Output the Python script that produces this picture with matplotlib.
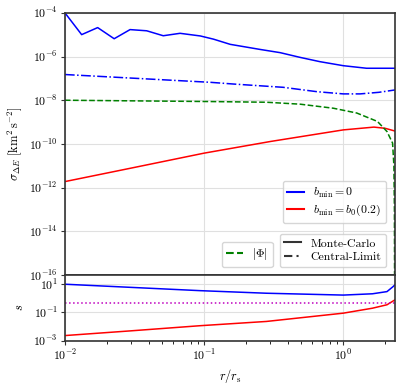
import numpy as np
import matplotlib
matplotlib.use('Agg')
import matplotlib.pyplot as plt
from matplotlib.lines import Line2D
from matplotlib.ticker import NullLocator

plt.rcParams['mathtext.fontset'] = 'cm'
plt.rcParams['font.family'] = 'serif'
plt.rcParams['font.serif'] = ['cmr10']
plt.rcParams['axes.formatter.use_mathtext'] = True
plt.rcParams['font.size'] = 8.5

# Monte-Carlo, b_min = 0
r_mc0 = [0.01, 0.0132, 0.0172, 0.0226, 0.0294, 0.0387, 0.0509, 0.0672, 0.094,
         0.117, 0.154, 0.253, 0.352, 0.49, 0.68, 1.0, 1.47, 2.0, 2.35]
sig_mc0 = [1e-4, 1.0e-5, 2.1e-5, 6.5e-6, 1.7e-5, 1.5e-5, 8.9e-6, 1.15e-5, 8.7e-6,
           6.2e-6, 3.6e-6, 2.1e-6, 1.5e-6, 9.1e-7, 5.8e-7, 3.8e-7, 2.9e-7, 2.9e-7, 2.9e-7]

# Central-Limit, b_min = 0
r_cl0 = [0.01, 0.0347, 0.111, 0.163, 0.37, 0.65, 1.0, 1.32, 1.8, 2.35]
sig_cl0 = [1.5e-7, 9.8e-8, 6.6e-8, 5.5e-8, 3.9e-8, 2.45e-8, 1.95e-8, 1.95e-8, 2.3e-8, 2.95e-8]

# Monte-Carlo, b_min = b0(0.2)
r_mcb = [0.01, 0.03, 0.1, 0.3, 1.0, 1.66, 2.0, 2.35]
sig_mcb = [1.9e-12, 7.9e-12, 3.8e-11, 1.3e-10, 4.4e-10, 5.9e-10, 5.2e-10, 3.9e-10]

# |Phi|
r_phi = [0.01, 0.111, 0.28, 0.49, 0.85, 1.25, 1.76, 2.06, 2.26, 2.31, 2.33, 2.34]
phi = [1e-8, 8.7e-9, 8.1e-9, 6.6e-9, 4.3e-9, 2.6e-9, 1.07e-9, 3.7e-10, 1.1e-10,
       1e-11, 1e-13, 1e-18]

# ratio s
r_s = [0.01, 0.0936, 0.28, 1.0, 1.62, 2.06, 2.28, 2.35]
s_b0 = [10.0, 3.5, 2.3, 1.7, 2.1, 3.0, 6.8, 9.0]
r_s2 = [0.01, 0.03, 0.0936, 0.28, 1.0, 1.62, 2.06, 2.35]
s_bb = [2.3e-3, 5e-3, 1.15e-2, 2.3e-2, 8.9e-2, 0.2, 0.35, 0.78]
s_ref = 0.5

fig = plt.figure(figsize=(4.08, 3.87), dpi=100)
ax = fig.add_axes([0.159, 0.289, 0.809, 0.678])
ax2 = fig.add_axes([0.159, 0.1197, 0.809, 0.1697], sharex=ax)

ax.plot(r_mc0, sig_mc0, 'b-', lw=1.1)
ax.plot(r_cl0, sig_cl0, 'b-.', lw=1.1)
ax.plot(r_mcb, sig_mcb, 'r-', lw=1.1)
ax.plot(r_phi, phi, 'g--', lw=1.1)

ax2.plot(r_s, s_b0, 'b-', lw=1.1)
ax2.plot(r_s2, s_bb, 'r-', lw=1.1)
ax2.axhline(s_ref, color='m', ls=':', lw=1.1)

for a in (ax, ax2):
    a.set_xscale('log')
    a.set_yscale('log')
    a.grid(True, color='0.88', lw=0.8)
    a.set_axisbelow(True)
    for sp in a.spines.values():
        sp.set_color('0.2')
        sp.set_linewidth(1.2)
    a.tick_params(direction='out', color='0.2', labelsize=8.5, length=3, pad=2)
    a.tick_params(which='minor', length=2)
    a.yaxis.set_minor_locator(NullLocator())

ax.set_xlim(0.01, 2.35)
ax.set_ylim(1e-16, 1e-4)
ax.set_yticks([1e-4, 1e-6, 1e-8, 1e-10, 1e-12, 1e-14, 1e-16])
ax.tick_params(axis='x', which='both', bottom=False, labelbottom=False)
ax.set_ylabel(r'$\sigma_{\Delta E}\ [\mathrm{km}^2\,\mathrm{s}^{-2}]$', fontsize=9, labelpad=4)

ax2.set_ylim(1e-3, 45)
ax2.set_yticks([1e1, 1e-1, 1e-3])
ax2.set_ylabel(r'$s$', fontsize=9, labelpad=5)
ax2.set_xlabel(r'$r/r_\mathrm{s}$', fontsize=9, labelpad=3)

leg1 = ax.legend([Line2D([], [], color='b'), Line2D([], [], color='r')],
                 [r'$b_\mathrm{min}=0$', r'$b_\mathrm{min}=b_0(0.2)$'],
                 loc='lower right', bbox_to_anchor=(0.973, 0.198), borderaxespad=0,
                 handlelength=1.4, labelspacing=0.3, fontsize=8.5)
leg2 = ax.legend([Line2D([], [], color='0.2'), Line2D([], [], color='0.2', ls=(0, (4, 2, 1, 2)))],
                 ['Monte-Carlo', 'Central-Limit'],
                 loc='lower right', bbox_to_anchor=(0.973, 0.0305), borderaxespad=0,
                 handlelength=1.4, labelspacing=0.3, fontsize=8.5)
ax.add_artist(leg1)
ax.add_artist(leg2)
ax.legend([Line2D([], [], color='g', ls='--')], [r'$|\Phi|$'],
          loc='lower right', bbox_to_anchor=(0.630, 0.0305), borderaxespad=0,
          handlelength=1.4, fontsize=8.5)

fig.savefig('out.png', dpi=100)
